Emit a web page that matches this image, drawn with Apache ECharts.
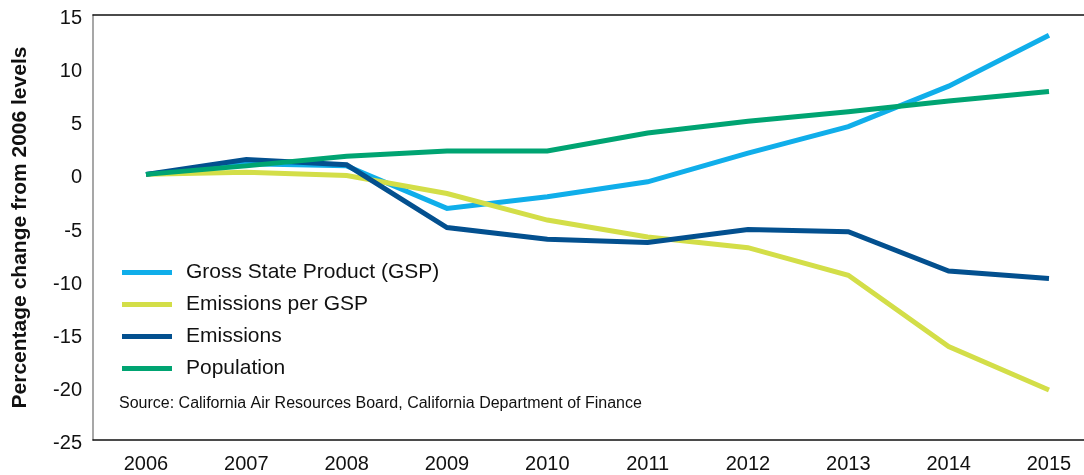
<!DOCTYPE html>
<html>
<head>
<meta charset="utf-8">
<script src="https://cdn.jsdelivr.net/npm/echarts@6/dist/echarts.min.js"></script>
<style>
html,body{margin:0;padding:0;background:#fff;}
#chart{width:1084px;height:475px;}
</style>
</head>
<body>
<div id="chart"></div>
<script>
var years = [2006, 2007, 2008, 2009, 2010, 2011, 2012, 2013, 2014, 2015];
var gsp = [0, 1.0, 0.8, -3.2, -2.1, -0.7, 2.0, 4.5, 8.3, 13.1];
var emissionsPerGsp = [0, 0.2, -0.1, -1.8, -4.3, -5.9, -6.9, -9.5, -16.2, -20.3];
var emissions = [0, 1.4, 0.9, -5.0, -6.1, -6.4, -5.2, -5.4, -9.1, -9.8];
var population = [0, 0.8, 1.7, 2.2, 2.2, 3.9, 5.0, 5.9, 6.9, 7.8];
var seriesNames = ['Gross State Product (GSP)', 'Emissions per GSP', 'Emissions', 'Population'];
var seriesColors = ['#10aeea', '#d3de48', '#03508f', '#00a472'];
var yTitle = 'Percentage change from 2006 levels';
var sourceText = 'Source: California Air Resources Board, California Department of Finance';

var FONT = '"Liberation Sans", Arial, Helvetica, sans-serif';
function pairs(vals){ return years.map(function(y,i){ return [y, vals[i]]; }); }
var allVals = [gsp, emissionsPerGsp, emissions, population];

var chart = echarts.init(document.getElementById('chart'), null, {renderer:'canvas'});
var option = {
  backgroundColor: '#fff',
  animation: false,
  grid: {left: 93, right: 0, top: 15, bottom: 35, containLabel: false},
  legend: {
    orient: 'vertical',
    left: 117, top: 257,
    itemWidth: 50, itemHeight: 5, itemGap: 11,
    icon: 'rect',
    data: seriesNames,
    textStyle: {fontFamily: FONT, fontSize: 21, color: '#111', lineHeight: 21, padding: [0,0,0,9]}
  },
  graphic: [{
    type: 'text', left: 119, top: 396,
    style: {text: sourceText, font: '16px ' + FONT, fill: '#111'}
  }],
  xAxis: [{
    type: 'value', min: 2005.472, max: 2015.349,
    minInterval: 1, maxInterval: 1, splitNumber: 10,
    axisLine: {show: true, onZero: false, lineStyle: {color: '#111', width: 1.5}},
    axisTick: {show: false},
    splitLine: {show: false},
    axisLabel: {
      showMinLabel: false, showMaxLabel: false,
      fontFamily: FONT, fontSize: 20, color: '#111', margin: 14,
      formatter: function(v){ return Number.isInteger(v) ? String(v) : ''; }
    }
  }, {
    type: 'value', position: 'top', min: 2005.472, max: 2015.349,
    axisLine: {show: true, onZero: false, lineStyle: {color: '#111', width: 1.5}},
    axisTick: {show: false}, axisLabel: {show: false}, splitLine: {show: false}
  }],
  yAxis: {
    type: 'value', min: -25, max: 15, interval: 5,
    name: yTitle, nameLocation: 'middle', nameRotate: 90, nameGap: 62,
    nameTextStyle: {fontFamily: FONT, fontSize: 21, fontWeight: 'bold', color: '#111'},
    axisLine: {show: true, lineStyle: {color: '#8a8a8a', width: 1.5}},
    axisTick: {show: false},
    splitLine: {show: false},
    axisLabel: {
      margin: 11,
      formatter: function(v){ return '{v|' + v + '}'; },
      rich: {v: {fontFamily: FONT, fontSize: 20, color: '#111', padding: [7,0,0,0]}}
    }
  },
  series: seriesNames.map(function(n, i){
    return {
      name: n, type: 'line', data: pairs(allVals[i]),
      symbol: 'none', smooth: false,
      color: seriesColors[i],
      lineStyle: {width: 5, color: seriesColors[i], cap: 'butt', join: 'miter'},
      z: 2 + i
    };
  })
};
chart.setOption(option);
</script>
</body>
</html>
